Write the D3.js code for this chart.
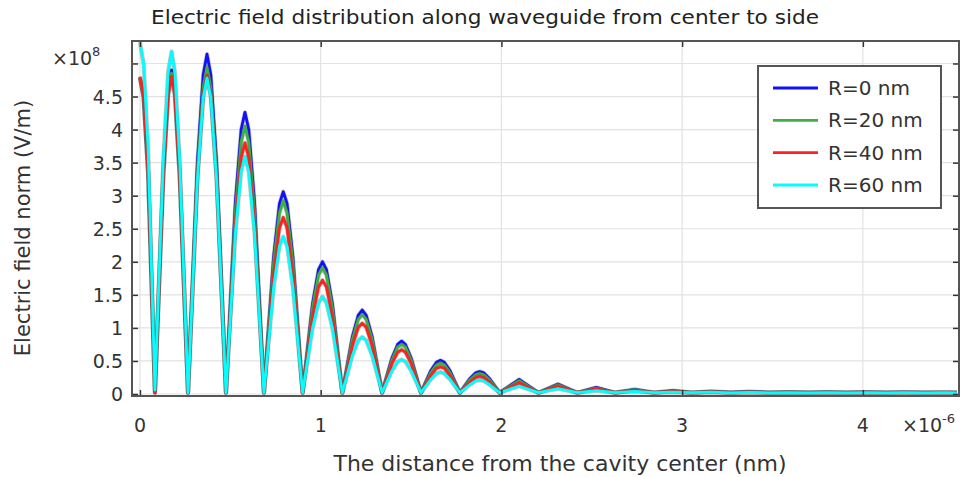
<!DOCTYPE html>
<html>
<head>
<meta charset="utf-8">
<script src="https://cdn.jsdelivr.net/npm/d3@7"></script>
<style>
  html, body { margin: 0; padding: 0; background: #fff; }
  svg { display: block; font-family: "DejaVu Sans", sans-serif; }
</style>
</head>
<body>
<svg id="chart" width="963" height="477"></svg>
<script>
// Distance from the cavity centre (x 1e-6)
const xValues = [
  0, 0.02, 0.045,
  0.083, 0.129, 0.156, 0.175, 0.193, 0.220,
  0.266, 0.318, 0.350, 0.371, 0.392, 0.424,
  0.476, 0.528, 0.560, 0.581, 0.602, 0.634,
  0.686, 0.740, 0.772, 0.793, 0.814, 0.846,
  0.900, 0.955, 0.988, 1.010, 1.032, 1.065,
  1.120, 1.175, 1.208, 1.230, 1.252, 1.285,
  1.340, 1.394, 1.426, 1.448, 1.469, 1.501,
  1.555, 1.609, 1.641, 1.663, 1.684, 1.716,
  1.770, 1.825, 1.858, 1.880, 1.902, 1.935,
  1.990, 2.098, 2.205, 2.313, 2.420, 2.525, 2.630, 2.738, 2.845, 2.950,
  3.055, 3.16, 3.27, 3.37, 3.48, 3.59, 3.70, 3.80, 3.91, 4.02, 4.13, 4.23, 4.34, 4.45, 4.52
];
// Electric field norm (x 1e8 V/m)
const seriesR0 = [
  4.78, 4.49, 3.35,
  0.02, 3.33, 4.61, 4.90, 4.61, 3.33,
  0.02, 3.50, 4.83, 5.14, 4.83, 3.50,
  0.02, 2.90, 4.00, 4.26, 4.00, 2.90,
  0.02, 2.08, 2.88, 3.06, 2.88, 2.08,
  0.02, 1.36, 1.88, 2.00, 1.88, 1.36,
  0.02, 0.86, 1.19, 1.27, 1.19, 0.86,
  0.02, 0.54, 0.75, 0.80, 0.75, 0.54,
  0.02, 0.35, 0.48, 0.51, 0.48, 0.35,
  0.02, 0.23, 0.32, 0.34, 0.32, 0.23,
  0.02, 0.22, 0.02, 0.15, 0.02, 0.10, 0.02, 0.07, 0.02, 0.05,
  0.02, 0.04, 0.025, 0.035, 0.025, 0.03, 0.025, 0.03, 0.025, 0.028, 0.025, 0.027, 0.025, 0.026, 0.025
];
const seriesR20 = [
  4.78, 4.49, 3.35,
  0.02, 3.30, 4.56, 4.85, 4.56, 3.30,
  0.02, 3.36, 4.64, 4.94, 4.64, 3.36,
  0.02, 2.75, 3.81, 4.05, 3.81, 2.75,
  0.02, 1.99, 2.74, 2.92, 2.74, 1.99,
  0.02, 1.30, 1.80, 1.91, 1.80, 1.30,
  0.02, 0.82, 1.13, 1.20, 1.13, 0.82,
  0.02, 0.51, 0.71, 0.75, 0.71, 0.51,
  0.02, 0.32, 0.44, 0.47, 0.44, 0.32,
  0.02, 0.21, 0.29, 0.31, 0.29, 0.21,
  0.02, 0.20, 0.02, 0.14, 0.02, 0.09, 0.02, 0.065, 0.02, 0.045,
  0.02, 0.035, 0.022, 0.032, 0.022, 0.028, 0.022, 0.027, 0.022, 0.026, 0.022, 0.025, 0.022, 0.024, 0.022
];
const seriesR40 = [
  4.80, 4.51, 3.36,
  0.02, 3.26, 4.51, 4.80, 4.51, 3.26,
  0.02, 3.28, 4.53, 4.82, 4.53, 3.28,
  0.02, 2.58, 3.57, 3.80, 3.57, 2.58,
  0.02, 1.82, 2.51, 2.67, 2.51, 1.82,
  0.02, 1.17, 1.62, 1.72, 1.62, 1.17,
  0.02, 0.73, 1.01, 1.07, 1.01, 0.73,
  0.02, 0.46, 0.63, 0.67, 0.63, 0.46,
  0.02, 0.28, 0.39, 0.41, 0.39, 0.28,
  0.02, 0.18, 0.25, 0.27, 0.25, 0.18,
  0.02, 0.17, 0.02, 0.12, 0.02, 0.08, 0.02, 0.055, 0.02, 0.04,
  0.02, 0.032, 0.02, 0.03, 0.02, 0.026, 0.02, 0.025, 0.02, 0.024, 0.02, 0.023, 0.02, 0.022, 0.02
];
const seriesR60 = [
  5.32, 5.00, 3.72,
  0.06, 3.52, 4.87, 5.18, 4.87, 3.52,
  0.02, 3.25, 4.49, 4.78, 4.49, 3.25,
  0.02, 2.44, 3.37, 3.59, 3.37, 2.44,
  0.02, 1.62, 2.24, 2.38, 2.24, 1.62,
  0.02, 1.00, 1.38, 1.47, 1.38, 1.00,
  0.02, 0.58, 0.81, 0.86, 0.81, 0.58,
  0.02, 0.35, 0.49, 0.52, 0.49, 0.35,
  0.02, 0.22, 0.31, 0.33, 0.31, 0.22,
  0.02, 0.14, 0.20, 0.21, 0.20, 0.14,
  0.02, 0.12, 0.02, 0.08, 0.02, 0.05, 0.02, 0.04, 0.02, 0.03,
  0.02, 0.028, 0.018, 0.025, 0.018, 0.022, 0.018, 0.021, 0.018, 0.02, 0.018, 0.02, 0.018, 0.02, 0.018
];
const seriesNames = ["R=0 nm", "R=20 nm", "R=40 nm", "R=60 nm"];
const seriesColors = ["#1010ff", "#3cb043", "#ff2020", "#00ffff"];
const xTicks = [0, 1, 2, 3, 4];
const yTicks = [0, 0.5, 1, 1.5, 2, 2.5, 3, 3.5, 4, 4.5, 5];
const yTickLabels = ["0", "0.5", "1", "1.5", "2", "2.5", "3", "3.5", "4", "4.5", ""];

const titleText = "Electric field distribution along waveguide from center to side";
const xTitle = "The distance from the cavity center (nm)";
const yTitle = "Electric field norm (V/m)";

const svg = d3.select("#chart");
const plot = { left: 132, right: 959, top: 41, bottom: 396 };

const x = d3.scaleLinear().domain([-0.044, 4.532]).range([plot.left, plot.right]);
const y = d3.scaleLinear().domain([-0.03, 5.34]).range([plot.bottom, plot.top]);

// grid
const grid = svg.append("g");
grid.selectAll("line.gx").data(xTicks).join("line")
  .attr("x1", d => x(d)).attr("x2", d => x(d))
  .attr("y1", plot.top).attr("y2", plot.bottom)
  .attr("stroke", "#e2e2e2").attr("stroke-width", 1.2);
grid.selectAll("line.gy").data(yTicks).join("line")
  .attr("x1", plot.left).attr("x2", plot.right)
  .attr("y1", d => y(d)).attr("y2", d => y(d))
  .attr("stroke", "#e2e2e2").attr("stroke-width", 1.2);

// lines
const seriesData = [seriesR0, seriesR20, seriesR40, seriesR60];
const line = d3.line()
  .x((d, i) => x(xValues[i]))
  .y(d => y(d))
  .curve(d3.curveLinear);

svg.append("clipPath").attr("id", "clip")
  .append("rect").attr("x", plot.left).attr("y", plot.top)
  .attr("width", plot.right - plot.left).attr("height", plot.bottom - plot.top);

const lines = svg.append("g").attr("clip-path", "url(#clip)");
seriesData.forEach((s, k) => {
  lines.append("path").datum(s)
    .attr("d", line)
    .attr("fill", "none")
    .attr("stroke", "#555")
    .attr("stroke-opacity", 0.35)
    .attr("stroke-width", 4.2)
    .attr("stroke-linejoin", "round");
  lines.append("path").datum(s)
    .attr("d", line)
    .attr("fill", "none")
    .attr("stroke", seriesColors[k])
    .attr("stroke-width", 2.8)
    .attr("stroke-linejoin", "round");
});

// axes (ticks inward on all sides)
const axisColor = "#333";
const tickLen = 6;
const axB = d3.axisBottom(x).tickValues(xTicks).tickSize(-tickLen).tickFormat("");
const axT = d3.axisTop(x).tickValues(xTicks).tickSize(-tickLen).tickFormat("");
const axL = d3.axisLeft(y).tickValues(yTicks).tickSize(-tickLen).tickFormat("");
const axR = d3.axisRight(y).tickValues(yTicks).tickSize(-tickLen).tickFormat("");
[[axB, `translate(0,${plot.bottom})`], [axT, `translate(0,${plot.top})`],
 [axL, `translate(${plot.left},0)`], [axR, `translate(${plot.right},0)`]].forEach(([ax, tr]) => {
  const g = svg.append("g").attr("transform", tr).call(ax);
  g.select(".domain").remove();
  g.selectAll(".tick line").attr("stroke", axisColor).attr("stroke-width", 1.5);
});

svg.append("rect")
  .attr("x", plot.left).attr("y", plot.top)
  .attr("width", plot.right - plot.left).attr("height", plot.bottom - plot.top)
  .attr("fill", "none").attr("stroke", "#555").attr("stroke-width", 2);

// tick labels
const labelColor = "#333";
svg.append("g").selectAll("text").data(xTicks).join("text")
  .attr("x", d => x(d)).attr("y", 432)
  .attr("text-anchor", "middle")
  .attr("font-size", 19).attr("fill", labelColor)
  .text(d => d);
svg.append("g").selectAll("text").data(yTicks).join("text")
  .attr("x", 123).attr("y", d => y(d) + 7)
  .attr("text-anchor", "end")
  .attr("font-size", 19).attr("fill", labelColor)
  .text((d, i) => yTickLabels[i]);

// exponents
const ex = svg.append("text").attr("x", 52).attr("y", 65)
  .attr("font-size", 19).attr("fill", labelColor);
ex.append("tspan").text("\u00d710");
ex.append("tspan").attr("dy", -9).attr("font-size", 13).text("8");

const ex2 = svg.append("text").attr("x", 902).attr("y", 432)
  .attr("font-size", 19).attr("fill", labelColor);
ex2.append("tspan").text("\u00d710");
ex2.append("tspan").attr("dy", -9).attr("font-size", 13).text("-6");

// titles
svg.append("text").attr("x", 485).attr("y", 24)
  .attr("text-anchor", "middle").attr("font-size", 19).attr("fill", "#222")
  .attr("textLength", 668).attr("lengthAdjust", "spacingAndGlyphs")
  .text(titleText);
svg.append("text").attr("x", 560).attr("y", 471)
  .attr("text-anchor", "middle").attr("font-size", 22).attr("fill", labelColor)
  .text(xTitle);
svg.append("text")
  .attr("transform", `translate(30,228) rotate(-90)`)
  .attr("text-anchor", "middle").attr("font-size", 21).attr("fill", labelColor)
  .text(yTitle);

// legend
const lg = svg.append("g");
lg.append("rect").attr("x", 758).attr("y", 66).attr("width", 183).attr("height", 142)
  .attr("fill", "#fff").attr("stroke", "#555").attr("stroke-width", 2);
const legendRows = seriesNames.map((n, i) => ({ n, c: seriesColors[i], i }));
const ly = d3.scalePoint().domain(seriesNames).range([88, 185]);
lg.selectAll("line").data(legendRows).join("line")
  .attr("x1", 773).attr("x2", 818)
  .attr("y1", d => ly(d.n)).attr("y2", d => ly(d.n))
  .attr("stroke", d => d.c).attr("stroke-width", 2.8);
lg.selectAll("text").data(legendRows).join("text")
  .attr("x", 828).attr("y", d => ly(d.n) + 7)
  .attr("font-size", 20).attr("fill", labelColor)
  .text(d => d.n);
</script>
</body>
</html>
